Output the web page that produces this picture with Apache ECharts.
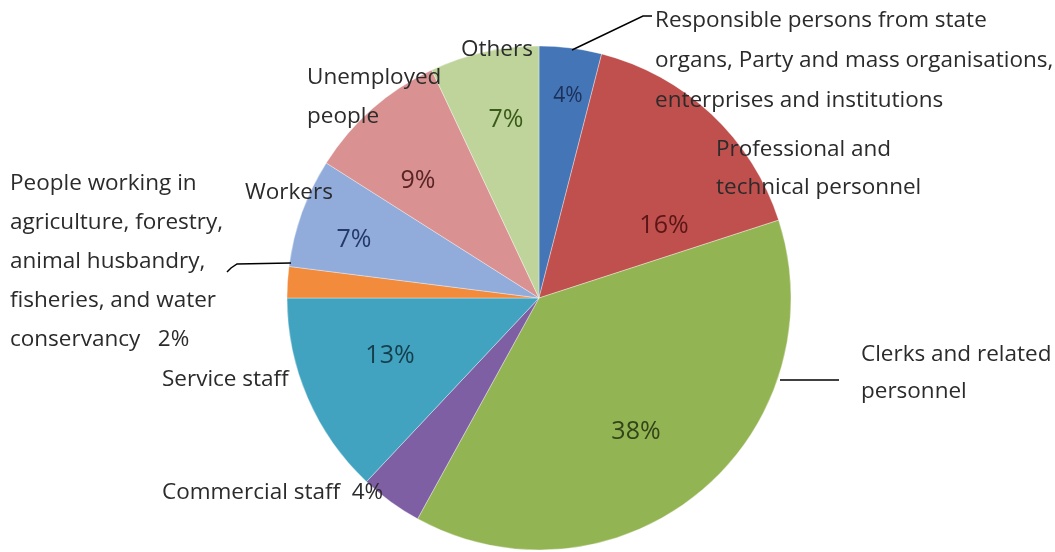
<!DOCTYPE html>
<html>
<head>
<meta charset="utf-8">
<script src="https://cdn.jsdelivr.net/npm/echarts@6/dist/echarts.min.js"></script>
<style>
  html, body { margin: 0; padding: 0; background: #ffffff; }
  #chart { width: 1055px; height: 552px; }
</style>
</head>
<body>
<div id="chart"></div>
<script>
// Occupational composition (percent), clockwise from 12 o'clock
const categories = [
  'Responsible persons from state organs, Party and mass organisations, enterprises and institutions',
  'Professional and technical personnel',
  'Clerks and related personnel',
  'Commercial staff',
  'Service staff',
  'People working in agriculture, forestry, animal husbandry, fisheries, and water conservancy',
  'Workers',
  'Unemployed people',
  'Others'
];
const shares = [4, 16, 38, 4, 13, 2, 7, 9, 7];

const sliceColors = ['#4375b7', '#c0504d', '#93b453', '#7f5fa3', '#41a3c0', '#f28b3c', '#91acdb', '#da9191', '#bed49a'];
const valueTextColors = ['#1c3058', '#5a1616', '#33441a', '#3d2a55', '#163e4c', '#6a3a10', '#24386a', '#5a2424', '#3a5a1a'];

// Where the percentage text sits inside each slice (null = printed beside its name instead)
const valueLabelPos = [[568, 96], [664, 226], [636, 432], null, [390, 356], null, [354, 240], [418, 181], [506, 120]];
const valueLabelSize = [21, 25, 25, 21, 25, 21, 25, 25, 25];

// Outside captions: lines of text with their left/middle anchor
const captions = [
  { lines: ['Responsible persons from state', 'organs, Party and mass organisations,', 'enterprises and institutions'], x: 655, y: 21, gap: 40 },
  { lines: ['Professional and', 'technical personnel'], x: 716, y: 150, gap: 38 },
  { lines: ['Clerks and related', 'personnel'], x: 861, y: 355, gap: 37 },
  { lines: ['Commercial staff  ' + shares[3] + '%'], x: 162, y: 493, gap: 0 },
  { lines: ['Service staff'], x: 162, y: 380, gap: 0 },
  { lines: ['People working in', 'agriculture, forestry,', 'animal husbandry,', 'fisheries, and water', 'conservancy   ' + shares[5] + '%'], x: 10, y: 184, gap: 39 },
  { lines: ['Workers'], x: 245, y: 193, gap: 0 },
  { lines: ['Unemployed', 'people'], x: 307, y: 78, gap: 39 },
  { lines: ['Others'], x: 461, y: 50, gap: 0 }
];

// Leader lines from captions to the pie
const leaders = [
  [[572, 50], [643, 16], [652, 16]],
  [[227, 272], [231, 268], [237, 264], [291, 263]],
  [[780, 380], [839, 380]]
];

const FONT = '"Open Sans", sans-serif';

const graphics = [];
captions.forEach(function (c) {
  c.lines.forEach(function (t, i) {
    graphics.push({
      type: 'text',
      x: c.x,
      y: c.y + i * c.gap,
      style: {
        text: t,
        fill: '#2b2b2b',
        font: '22.5px ' + FONT,
        textAlign: 'left',
        textVerticalAlign: 'middle'
      },
      z: 10
    });
  });
});
leaders.forEach(function (pts) {
  graphics.push({
    type: 'polyline',
    shape: { points: pts },
    style: { stroke: '#000', lineWidth: 1.5, fill: null },
    z: 10
  });
});

const chart = echarts.init(document.getElementById('chart'), null, { renderer: 'canvas' });
chart.setOption({
  backgroundColor: '#ffffff',
  animation: false,
  series: [{
    type: 'pie',
    center: [539, 298],
    radius: 252,
    startAngle: 90,
    clockwise: true,
    avoidLabelOverlap: false,
    data: categories.map(function (name, i) {
      return {
        name: name,
        value: shares[i],
        itemStyle: { color: sliceColors[i] },
        label: {
          show: valueLabelPos[i] !== null,
          color: valueTextColors[i],
          fontSize: valueLabelSize[i]
        }
      };
    }),
    itemStyle: { borderColor: 'rgba(255,255,255,0.35)', borderWidth: 1 },
    label: {
      position: 'inside',
      formatter: '{c}%',
      fontFamily: FONT,
      align: 'center',
      verticalAlign: 'middle'
    },
    labelLine: { show: false },
    labelLayout: function (params) {
      const p = valueLabelPos[params.dataIndex];
      return p ? { x: p[0], y: p[1], align: 'center', verticalAlign: 'middle' } : {};
    },
    emphasis: { disabled: true }
  }],
  graphic: graphics
});
</script>
</body>
</html>
